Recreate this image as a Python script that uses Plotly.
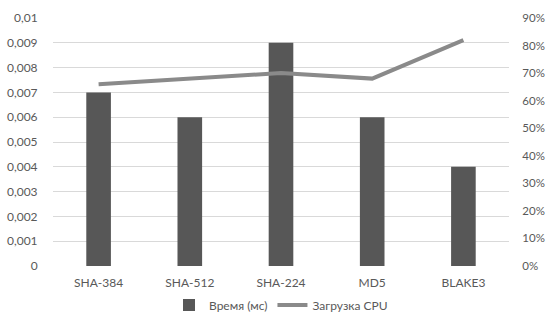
import plotly.graph_objects as go

categories = ["SHA-384", "SHA-512", "SHA-224", "MD5", "BLAKE3"]
time_ms = [0.007, 0.006, 0.009, 0.006, 0.004]
cpu_load = [0.66, 0.68, 0.70, 0.68, 0.82]

fig = go.Figure()
fig.add_trace(go.Bar(
    x=categories, y=time_ms, name="Время (мс)",
    marker=dict(color="#575757", line=dict(width=0)),
    width=0.27, yaxis="y",
))
fig.add_trace(go.Scatter(
    x=categories, y=cpu_load, name="Загрузка CPU",
    mode="lines", line=dict(color="#8a8a8a", width=4),
    yaxis="y2",
))

font = dict(family="Lato, 'Open Sans', sans-serif", size=12, color="#595959")
fig.update_layout(
    width=546, height=322,
    margin=dict(l=53, r=37, t=18, b=56, autoexpand=False),
    paper_bgcolor="white", plot_bgcolor="white",
    separators=", ",
    font=font,
    showlegend=True,
    legend=dict(orientation="h", x=0.5, xanchor="center",
                yref="container", y=0.053, yanchor="middle",
                font=dict(size=12, color="#595959"),
                traceorder="normal", itemwidth=30),
    xaxis=dict(showgrid=False, showline=False, ticks="outside", ticklen=6,
               tickcolor="white", tickfont=font),
    yaxis=dict(range=[0, 0.01], dtick=0.001, showgrid=True, gridcolor="#d9d9d9",
               gridwidth=1, zeroline=False, showline=False, ticks="outside",
               ticklen=12, tickcolor="white", tickfont=font),
    yaxis2=dict(range=[0, 0.9], dtick=0.1, tickformat=".0%", overlaying="y",
                side="right", showgrid=False, zeroline=False, showline=False,
                ticks="outside", ticklen=10, tickcolor="white",
                tickfont=dict(family=font["family"], size=11.5, color="#595959")),
)

fig.write_html("out.html",
               config={"displayModeBar": False},
               post_script="document.body.style.margin='0';document.body.style.overflow='hidden';")
